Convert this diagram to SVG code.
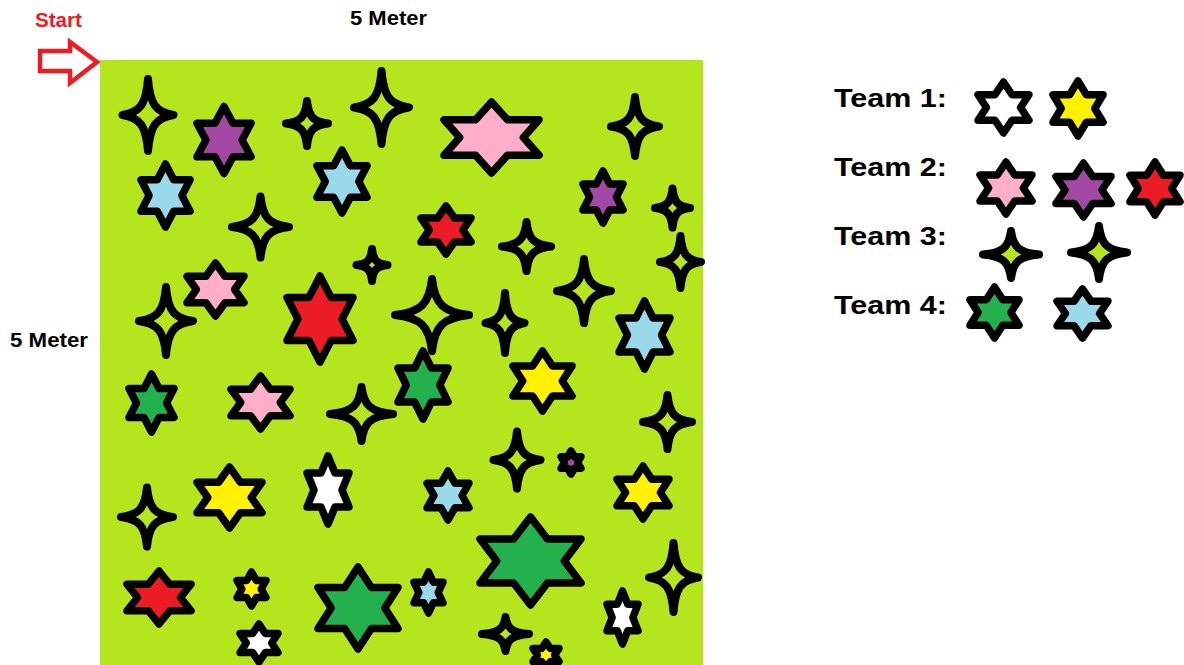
<svg xmlns="http://www.w3.org/2000/svg" xmlns:xlink="http://www.w3.org/1999/xlink" width="1184" height="665" viewBox="0 0 1184 665">
<style>
.lbl{font-family:"Liberation Sans",Arial,sans-serif;font-weight:bold;fill:#000}
.start{fill:#ed1c24}
.pink{fill:#ffaec9}.purple{fill:#a349a4}.red{fill:#ed1c24}.blue{fill:#99d9ea}
.yellow{fill:#fff200}.green{fill:#22b14c}.white{fill:#ffffff}.lime{fill:#b5e61d}
</style>
<defs>
<path id="hex" d="M0,-100 L29,-50 L86.6,-50 L58,0 L86.6,50 L29,50 L0,100 L-29,50 L-86.6,50 L-58,0 L-86.6,-50 L-29,-50 Z" stroke="#000" stroke-width="7.5" stroke-linejoin="round" vector-effect="non-scaling-stroke"/>
<path id="spark" d="M0,-100 C8,-30 30,-8 100,0 C30,8 8,30 0,100 C-8,30 -30,8 -100,0 C-30,-8 -8,-30 0,-100 Z" fill="#b5e61d" stroke="#000" stroke-width="8" stroke-linejoin="round" vector-effect="non-scaling-stroke"/>
</defs>
<rect width="1184" height="665" fill="#fff"/>
<rect id="field" x="100" y="60" width="603" height="605" fill="#b5e61d"/>
<g id="labels">
<text class="lbl start" x="35" y="27" font-size="20" textLength="47" lengthAdjust="spacingAndGlyphs">Start</text>
<text class="lbl" x="350" y="25" font-size="21" textLength="77" lengthAdjust="spacingAndGlyphs">5 Meter</text>
<text class="lbl" x="10" y="347" font-size="21" textLength="78" lengthAdjust="spacingAndGlyphs">5 Meter</text>
</g>
<g id="start-arrow">
<path d="M40,51 L70,51 L70,42 L97,62 L70,83 L70,71 L40,71 Z" fill="#fff" stroke="#ed1c24" stroke-width="4.5" stroke-linejoin="miter"/>
</g>
<g id="stars">
<use href="#spark" transform="translate(148,115) scale(.255,.36)"/>
<use href="#hex" class="purple" transform="translate(224,140) scale(.312,.335)"/>
<use href="#hex" class="blue" transform="translate(165.5,195.5) scale(.283,.315)"/>
<use href="#spark" transform="translate(260.5,227) scale(.285,.305)"/>
<use href="#spark" transform="translate(307,123.5) scale(.21,.225)"/>
<use href="#spark" transform="translate(381.5,107.5) scale(.275,.365)"/>
<use href="#hex" class="blue" transform="translate(342,181.5) scale(.289,.315)"/>
<use href="#hex" class="pink" transform="translate(491.5,137.5) scale(.549,.355)"/>
<use href="#hex" class="red" transform="translate(446,230) scale(.289,.24)"/>
<use href="#spark" transform="translate(635,126.5) scale(.24,.295)"/>
<use href="#hex" class="purple" transform="translate(603,197) scale(.231,.26)"/>
<use href="#spark" transform="translate(672.5,208) scale(.175,.195)"/>
<use href="#spark" transform="translate(526.5,246.5) scale(.245,.245)"/>
<use href="#spark" transform="translate(680.5,262) scale(.205,.26)"/>
<use href="#spark" transform="translate(372,265) scale(.155,.16)"/>
<use href="#hex" class="pink" transform="translate(215.5,289.5) scale(.329,.265)"/>
<use href="#spark" transform="translate(166,321) scale(.27,.34)"/>
<use href="#hex" class="red" transform="translate(320,319) scale(.381,.43)"/>
<use href="#spark" transform="translate(432,315) scale(.37,.36)"/>
<use href="#spark" transform="translate(505,323) scale(.195,.30)"/>
<use href="#spark" transform="translate(584,291) scale(.27,.32)"/>
<use href="#hex" class="blue" transform="translate(644.5,335) scale(.294,.34)"/>
<use href="#hex" class="green" transform="translate(423,385) scale(.289,.34)"/>
<use href="#spark" transform="translate(361.5,414) scale(.315,.27)"/>
<use href="#hex" class="yellow" transform="translate(542.5,381) scale(.341,.30)"/>
<use href="#hex" class="green" transform="translate(151.5,403) scale(.26,.29)"/>
<use href="#hex" class="pink" transform="translate(260.5,402.5) scale(.341,.265)"/>
<use href="#spark" transform="translate(667.5,422) scale(.245,.27)"/>
<use href="#spark" transform="translate(517,460) scale(.235,.285)"/>
<use href="#hex" class="purple" transform="translate(571,462.5) scale(.115,.115)"/>
<use href="#hex" class="yellow" transform="translate(643,492.5) scale(.30,.265)"/>
<use href="#hex" class="blue" transform="translate(448,495.5) scale(.242,.245)"/>
<use href="#hex" class="white" transform="translate(328,490) scale(.242,.34)"/>
<use href="#hex" class="yellow" transform="translate(229.5,497.5) scale(.375,.305)"/>
<use href="#spark" transform="translate(147,517) scale(.26,.295)"/>
<use href="#hex" class="green" transform="translate(530.5,561) scale(.583,.44)"/>
<use href="#spark" transform="translate(673.5,577.5) scale(.245,.345)"/>
<use href="#hex" class="red" transform="translate(159,597.5) scale(.37,.265)"/>
<use href="#hex" class="yellow" transform="translate(251.5,589) scale(.167,.17)"/>
<use href="#hex" class="white" transform="translate(259,643) scale(.219,.19)"/>
<use href="#hex" class="green" transform="translate(358,608) scale(.462,.41)"/>
<use href="#hex" class="blue" transform="translate(428.5,592.5) scale(.167,.205)"/>
<use href="#hex" class="white" transform="translate(622.5,617.5) scale(.179,.265)"/>
<use href="#spark" transform="translate(505.5,634) scale(.235,.17)"/>
<use href="#hex" class="yellow" transform="translate(546,655) scale(.15,.13)"/>
</g>
<g id="legend-team1">
<text class="lbl" x="834" y="107" font-size="26" textLength="113" lengthAdjust="spacingAndGlyphs">Team 1:</text>
<use href="#hex" class="white" transform="translate(1003.5,107.5) scale(.294,.255)"/>
<use href="#hex" class="yellow" transform="translate(1078,108.5) scale(.289,.275)"/>
</g>
<g id="legend-team2">
<text class="lbl" x="834" y="176" font-size="26" textLength="113" lengthAdjust="spacingAndGlyphs">Team 2:</text>
<use href="#hex" class="pink" transform="translate(1006,188) scale(.30,.26)"/>
<use href="#hex" class="purple" transform="translate(1083.5,190) scale(.318,.27)"/>
<use href="#hex" class="red" transform="translate(1155,188.5) scale(.289,.265)"/>
</g>
<g id="legend-team3">
<text class="lbl" x="834" y="245" font-size="26" textLength="113" lengthAdjust="spacingAndGlyphs">Team 3:</text>
<use href="#spark" transform="translate(1011,254.5) scale(.28,.235)"/>
<use href="#spark" transform="translate(1099,252.5) scale(.28,.265)"/>
</g>
<g id="legend-team4">
<text class="lbl" x="834" y="314" font-size="26" textLength="113" lengthAdjust="spacingAndGlyphs">Team 4:</text>
<use href="#hex" class="green" transform="translate(994.5,312.5) scale(.283,.255)"/>
<use href="#hex" class="blue" transform="translate(1082.5,313.5) scale(.294,.245)"/>
</g>
</svg>
